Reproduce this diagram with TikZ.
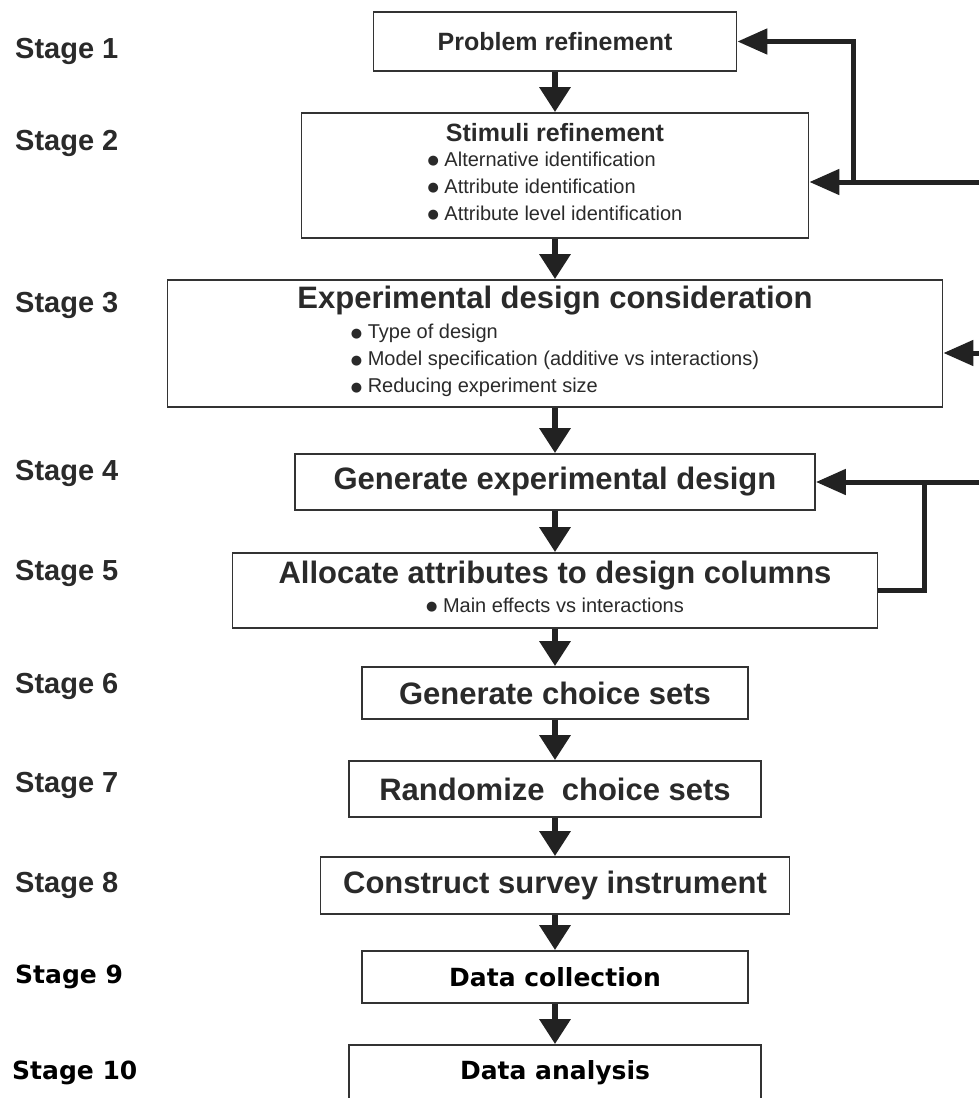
\documentclass[tikz,border=0pt]{standalone}
\usepackage{fontspec}
\setmainfont{Liberation Sans}
\newfontfamily\heavyfam{DejaVu Sans}
\usetikzlibrary{arrows.meta}

\definecolor{ink}{HTML}{2A2A2A}
\definecolor{edge}{HTML}{333333}
\definecolor{arrowc}{HTML}{222222}

\newcommand{\bigtitle}{\fontsize{31}{36}\selectfont\bfseries}
\newcommand{\midtitle}{\fontsize{25}{30}\selectfont\bfseries}
\newcommand{\itemfont}{\fontsize{20}{27}\selectfont}
\newcommand{\stagefont}{\fontsize{29}{34}\selectfont\bfseries}
\newcommand{\heavyfont}{\heavyfam\fontsize{25}{30}\selectfont\bfseries}
\newcommand{\itm}[1]{{\heavyfam\fontsize{13}{13}\selectfont\raisebox{1.5pt}{●}}\ #1}

\tikzset{
    stagebox/.style={draw=edge, line width=1.8pt, fill=white, inner sep=0pt,
                     align=center, text=ink, font=\itemfont},
    stage/.style={anchor=west, inner sep=0pt, font=\stagefont, text=ink},
    flow/.style={draw=arrowc, line width=6.5pt, -{Triangle[width=30pt,length=25pt]}},
    fback/.style={draw=arrowc, line width=5pt, -{Triangle[width=25pt,length=30pt]}},
    fbackline/.style={draw=arrowc, line width=5pt}}

\begin{document}
\begin{tikzpicture}[x=1pt,y=-1pt]
  \useasboundingbox (0,0) rectangle (979,1098);
  \clip (0,0) rectangle (979,1098);

  % stage labels
  \foreach \n/\y in {1/51,2/143,3/305,4/473,5/573,6/686,7/785,8/885}
    \node [stage] (s\n) at (15,\y) {Stage \n};
  \node [stage, font=\heavyfont, text=black] (s9) at (15,977) {Stage 9};
  \node [stage, font=\heavyfont, text=black] (s10) at (12,1073) {Stage 10};

  % steps
  \node [stagebox, minimum width=363, minimum height=59] (b1) at (555,41.5)
    {\midtitle Problem refinement};
  \node [stagebox, minimum width=507, minimum height=125] (b2) at (555,175.5)
    {{\midtitle Stimuli refinement}\\[-2pt]
     \begin{tabular}[t]{@{}l@{}}
       \itm{Alternative identification}\\
       \itm{Attribute identification}\\
       \itm{Attribute level identification}
     \end{tabular}};
  \node [stagebox, minimum width=775, minimum height=127] (b3) at (555,343.5)
    {{\bigtitle Experimental design consideration}\\[3pt]
     \begin{tabular}[t]{@{}l@{}}
       \itm{Type of design}\\
       \itm{Model specification (additive vs interactions)}\\
       \itm{Reducing experiment size}
     \end{tabular}};
  \node [stagebox, minimum width=520, minimum height=56] (b4) at (555,482)
    {\bigtitle Generate experimental design};
  \node [stagebox, minimum width=645, minimum height=75] (b5) at (555,590.5)
    {{\bigtitle Allocate attributes to design columns}\\[2pt]
     \begin{tabular}[t]{@{}l@{}}
       \itm{Main effects vs interactions}
     \end{tabular}};
  \node [stagebox, minimum width=386, minimum height=52] (b6) at (555,693)
    {\bigtitle Generate choice sets};
  \node [stagebox, minimum width=412, minimum height=56] (b7) at (555,789)
    {\bigtitle Randomize\ \ choice sets};
  \node [stagebox, minimum width=469, minimum height=57] (b8) at (555,885.5)
    {\bigtitle Construct survey instrument};
  \node [stagebox, minimum width=386, minimum height=52, text=black] (b9) at (555,977)
    {\heavyfont Data collection};
  \node [stagebox, minimum width=412, minimum height=56, text=black] (b10) at (555,1073)
    {\heavyfont Data analysis};

  \foreach \from/\to in {b1/b2,b2/b3,b3/b4,b4/b5,b5/b6,b6/b7,b7/b8,b8/b9,b9/b10}
    \draw [flow] (\from) -- (\to);

  % feedback loops
  \coordinate (fb1) at (979,182);
  \coordinate (j1) at (853,182);
  \coordinate (fb2) at (979,353);
  \coordinate (fb3) at (979,482);
  \coordinate (j2) at (924,482);
  \draw [fback] (fb1) -- (fb1 -| b2.east);
  \draw [fback] (j1) |- (b1.east);
  \draw [fback] (fb2) -- (fb2 -| b3.east);
  \draw [fback] (fb3) -- (b4.east);
  \draw [fbackline] (j2) |- (b5.east);
\end{tikzpicture}
\end{document}
